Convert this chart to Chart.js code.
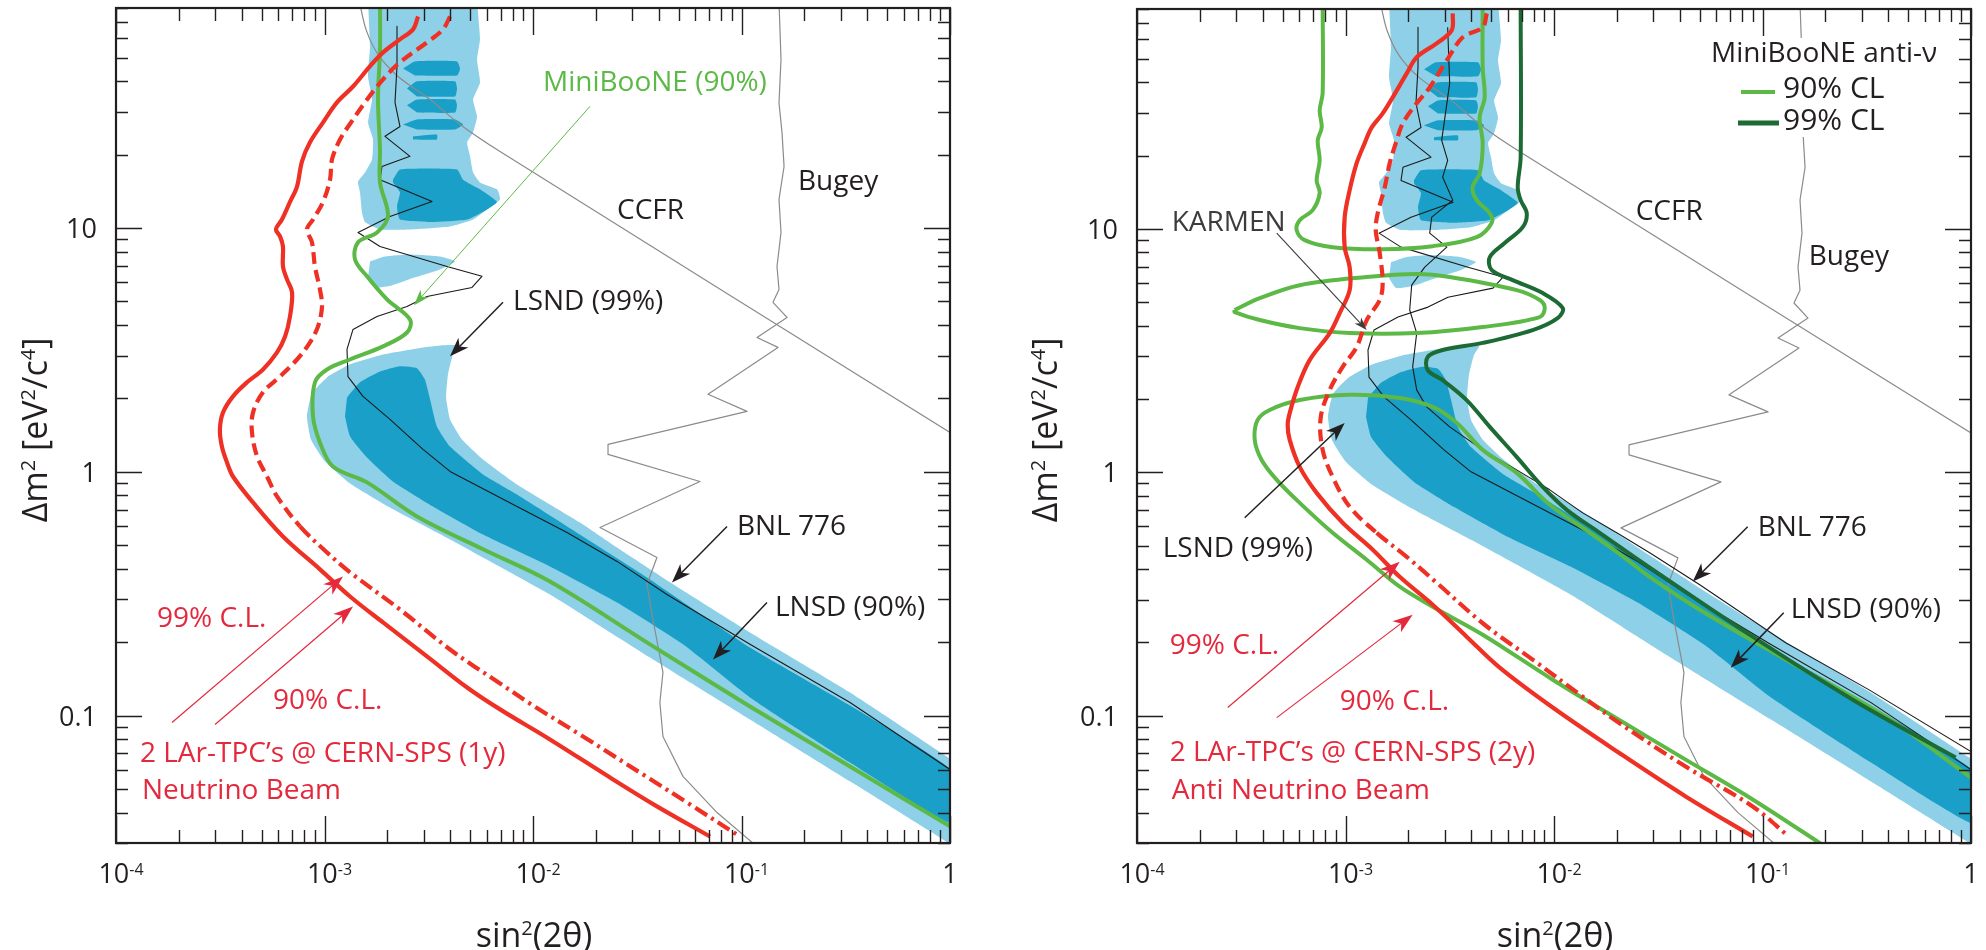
<!DOCTYPE html>
<html>
<head>
<meta charset="utf-8">
<script src="https://cdn.jsdelivr.net/npm/chart.js@4.4.1/dist/chart.umd.min.js"></script>
<style>
  html, body { margin: 0; padding: 0; background: #ffffff; }
  #wrap { position: relative; width: 1986px; height: 950px; overflow: hidden; background: #fff; }
  #wrap canvas { position: absolute; top: 0; }
</style>
</head>
<body>
<div id="wrap">
  <canvas id="left" width="993" height="950" style="left:0px"></canvas>
  <canvas id="right" width="993" height="950" style="left:993px"></canvas>
</div>
<script>
// ---- Curves in (sin²2θ, Δm² [eV²/c⁴]) ----

// LSND allowed regions (shared by both panels)
const lsnd99Lower = [
  [1.05,0.0648],[0.3315,0.1244],[0.1098,0.2193],[4.64e-2,0.3484],[2.53e-2,0.4894],[1.737e-2,0.6084],
  [1.206e-2,0.735],[8.38e-3,0.888],[5.76e-3,1.124],[4.57e-3,1.358],[4.00e-3,1.641],[3.83e-3,2.02],
  [3.91e-3,2.51],[4.13e-3,3.03],[4.37e-3,3.30],[3.58e-3,3.30],[2.777e-3,3.21],[1.908e-3,3.03],
  [1.326e-3,2.76],[1.028e-3,2.44],[8.71e-4,2.10],[8.24e-4,1.688],[8.61e-4,1.358],[1.006e-3,1.103],
  [1.326e-3,0.896],[2.061e-3,0.714],[4.00e-3,0.528],[1.206e-2,0.314],[3.64e-2,0.173],[0.1098,0.0964],
  [0.3315,0.0537],[1.05,0.029]
];
const lsnd99Upper = [
  [1.617e-3,85],[1.653e-3,55.7],[1.617e-3,41.9],[1.690e-3,33.7],[1.617e-3,27.1],[1.709e-3,23.1],
  [1.690e-3,19.1],[1.564e-3,16.9],[1.448e-3,15.5],[1.480e-3,14.02],[1.513e-3,11.6],[1.564e-3,10.6],
  [1.846e-3,9.88],[2.57e-3,9.88],[4.00e-3,10.16],[5.16e-3,10.85],[6.02e-3,11.93],[6.95e-3,13.12],
  [6.72e-3,14.42],[5.57e-3,15.4],[5.16e-3,16.9],[4.99e-3,19.7],[4.83e-3,22.5],[5.16e-3,24.7],
  [5.39e-3,28.7],[5.16e-3,33.7],[5.57e-3,39.6],[5.39e-3,49.2],[5.57e-3,59.5],[5.39e-3,85]
];
const lsnd99Island = [
  [1.653e-3,7.30],[1.951e-3,7.65],[2.57e-3,7.80],[3.58e-3,7.65],[4.23e-3,7.30],[3.58e-3,6.77],
  [2.717e-3,6.28],[2.107e-3,5.82],[1.747e-3,5.71],[1.617e-3,6.28]
];
const lsnd90Lower = [
  [1.282e-3,2.02],[1.480e-3,2.33],[1.846e-3,2.58],[2.302e-3,2.71],[2.777e-3,2.66],[3.03e-3,2.39],
  [3.21e-3,1.98],[3.46e-3,1.536],[4.00e-3,1.27],[5.76e-3,0.976],[8.38e-3,0.808],[1.737e-2,0.543],
  [3.64e-2,0.362],[0.1098,0.1903],[0.3315,0.110],[1.05,0.0584],
  [1.05,0.0357],[0.3315,0.0642],[0.1098,0.1187],[5.24e-2,0.196],[2.53e-2,0.291],[1.206e-2,0.409],
  [5.76e-3,0.553],[3.31e-3,0.721],[2.13e-3,0.913],[1.599e-3,1.146],[1.326e-3,1.397],[1.254e-3,1.688]
];
const lsnd90Blob = [
  [2.13e-3,15.8],[2.302e-3,17.4],[4.32e-3,17.4],[4.62e-3,15.8],[5.57e-3,14.42],[6.72e-3,12.8],
  [6.02e-3,11.93],[4.83e-3,10.85],[3.31e-3,10.6],[2.302e-3,10.85],[2.227e-3,12.27],[2.302e-3,14.02],[2.13e-3,15.4]
];
const lsnd90Stripes = [
  [[2.380e-3,45.2],[2.717e-3,48.3],[4.32e-3,48.3],[4.47e-3,45.2],[4.32e-3,42.3],[2.717e-3,42.3]],
  [[2.487e-3,37.4],[2.777e-3,40.0],[4.23e-3,40.0],[4.32e-3,37.4],[4.23e-3,34.7],[2.777e-3,34.7]],
  [[2.487e-3,31.9],[2.777e-3,33.7],[4.23e-3,33.7],[4.32e-3,31.9],[4.23e-3,29.8],[2.777e-3,29.8]],
  [[2.380e-3,26.6],[2.777e-3,27.9],[4.23e-3,27.9],[4.62e-3,26.6],[4.23e-3,25.4],[2.777e-3,25.4]],
  [[2.657e-3,23.8],[3.46e-3,24.2],[3.46e-3,23.1],[2.657e-3,23.1]]
];

// Exclusion limits (shared)
const ccfr = [
  [1.47e-3,85],[1.581e-3,65.4],[1.806e-3,51.6],[2.252e-3,41.9],[3.21e-3,33.7],[4.47e-3,26.6],
  [6.95e-3,20.6],[1.0,1.45]
];
const bugey = [
  [0.1513,85],[0.1547,49.2],[0.1513,32.6],[0.1564,24.7],[0.16,17.9],[0.1513,13.12],[0.1547,9.60],
  [0.148,6.96],[0.1513,5.60],[0.1416,4.96],[0.1653,4.30],[0.1187,3.56],[0.1496,3.24],[0.0691,2.08],
  [0.1063,1.77],[0.0229,1.296],[0.0229,1.179],[0.0632,0.913],[0.02096,0.591],[0.0393,0.445],
  [0.0352,0.345],[0.0376,0.248],[0.0420,0.1503],[0.0406,0.1132],[0.0420,0.0821],[0.0524,0.0563],
  [0.0763,0.04],[0.1187,0.029]
];
const bnl776 = [
  [2.227e-3,67.3],[2.227e-3,46.1],[2.178e-3,32.8],[2.302e-3,26.1],[1.951e-3,23.8],[2.57e-3,19.7],
  [1.887e-3,17.9],[1.846e-3,15.8],[3.28e-3,12.87],[2.061e-3,11.17],[1.448e-3,9.60],[1.846e-3,8.41],
  [3.87e-3,6.96],[5.69e-3,6.34],[5.10e-3,5.71],[3.10e-3,5.24],[2.487e-3,4.77],[1.786e-3,4.34],
  [1.370e-3,3.84],[1.282e-3,3.18],[1.296e-3,2.46],[1.530e-3,2.04],[2.061e-3,1.641],[2.968e-3,1.236],
  [4.00e-3,1.004],[8.38e-3,0.721],[1.456e-2,0.564],[2.53e-2,0.429],[4.39e-2,0.314],[0.1098,0.196],
  [0.3315,0.1132],[1.0,0.0601]
];
const karmen = [
  [3.09e-3,67.3],[3.16e-3,39.6],[2.893e-3,23.1],[3.09e-3,19.1],[2.925e-3,16.3],[3.27e-3,13.12],
  [2.591e-3,11.17],[2.534e-3,9.60],[3.06e-3,8.41],[2.399e-3,6.96],[2.077e-3,5.87],[2.032e-3,4.64],
  [2.195e-3,3.73],[2.10e-3,2.71],[2.195e-3,2.18],[2.452e-3,1.855],[3.16e-3,1.536],[4.55e-3,1.236],
  [6.62e-3,1.023],[9.54e-3,0.847],[1.373e-2,0.681],[2.00e-2,0.564],[2.877e-2,0.467],[5.00e-2,0.345],
  [0.1292,0.1995],[0.3232,0.128],[1.0,0.0712]
];

// Neutrino beam, 1 year: LAr-TPC sensitivity and MiniBooNE limit
const larNu99 = [
  [2.81e-3,73.9],[2.66e-3,65.4],[2.30e-3,59.5],[1.91e-3,52.6],[1.65e-3,46.1],[1.37e-3,38.1],
  [1.148e-3,32.8],[9.83e-4,27.1],[8.52e-4,22.5],[7.80e-4,18.8],[7.38e-4,14.8],[6.83e-4,12.8],
  [6.25e-4,10.85],[5.85e-4,9.88],[6.12e-4,9.25],[6.32e-4,8.41],[6.32e-4,6.96],[6.61e-4,6.16],
  [6.99e-4,5.45],[6.83e-4,4.34],[6.47e-4,3.59],[5.92e-4,3.09],[5.07e-4,2.63],[4.25e-4,2.33],
  [3.64e-4,2.04],[3.26e-4,1.75],[3.15e-4,1.49],[3.22e-4,1.27],[3.41e-4,1.09],[3.64e-4,0.957],
  [4.54e-4,0.749],[6.32e-4,0.543],[9.51e-4,0.398],[1.326e-3,0.308],[1.908e-3,0.241],[3.10e-3,0.175],
  [4.83e-3,0.1304],[6.95e-3,0.106],[1.206e-2,0.0798],[2.42e-2,0.0547],[3.93e-2,0.0424],[7.06e-2,0.0319]
];
const larNu90 = [
  [4.00e-3,73.9],[3.70e-3,65.4],[3.10e-3,57.8],[2.30e-3,47.9],[1.91e-3,40.8],[1.60e-3,33.7],
  [1.37e-3,27.9],[1.187e-3,23.1],[1.086e-3,19.1],[1.063e-3,15.8],[9.83e-4,12.8],[8.81e-4,10.85],
  [8.24e-4,9.88],[8.71e-4,8.74],[9.00e-4,6.96],[9.51e-4,5.60],[9.73e-4,4.77],[9.31e-4,3.95],
  [8.52e-4,3.40],[7.38e-4,2.89],[6.12e-4,2.46],[5.07e-4,2.12],[4.54e-4,1.75],[4.49e-4,1.45],
  [4.75e-4,1.157],[5.30e-4,0.957],[5.92e-4,0.793],[7.63e-4,0.597],[1.028e-3,0.467],[1.326e-3,0.387],
  [2.30e-3,0.2725],[4.00e-3,0.1867],[6.95e-3,0.1354],[1.0e-2,0.110],[1.737e-2,0.0821],[3.48e-2,0.0563],
  [5.66e-2,0.0432],[9.83e-2,0.0319]
];
const miniNu90 = [
  [1.846e-3,85],[1.846e-3,54.1],[1.806e-3,33.7],[1.846e-3,21.0],[1.846e-3,15.4],[2.016e-3,11.17],
  [1.786e-3,9.60],[1.448e-3,8.74],[1.401e-3,7.44],[1.599e-3,6.34],[1.994e-3,5.10],[2.57e-3,4.22],
  [2.487e-3,3.73],[1.908e-3,3.27],[1.326e-3,2.89],[1.028e-3,2.63],[9.00e-4,2.33],[8.81e-4,1.688],
  [9.51e-4,1.32],[1.098e-3,1.052],[1.599e-3,0.905],[2.777e-3,0.656],[5.76e-3,0.481],[1.206e-2,0.355],
  [3.64e-2,0.196],[0.1098,0.109],[0.3315,0.0618],[1.0,0.0351]
];

// Anti-neutrino beam, 2 years: LAr-TPC sensitivity and MiniBooNE anti-ν contours
const larAnti99 = [
  [3.27e-3,76.8],[3.23e-3,65.4],[2.737e-3,57.8],[2.195e-3,50.7],[1.966e-3,43.5],[1.684e-3,34.7],
  [1.508e-3,29.8],[1.336e-3,26.1],[1.236e-3,22.5],[1.131e-3,18.6],[1.047e-3,14.42],[9.91e-4,11.17],
  [9.91e-4,8.41],[1.047e-3,6.96],[1.047e-3,5.60],[9.38e-4,4.51],[8.40e-4,3.73],[6.73e-4,2.89],
  [5.90e-4,2.24],[5.40e-4,1.75],[5.28e-4,1.565],[5.40e-4,1.358],[6.03e-4,1.052],[7.27e-4,0.823],
  [9.69e-4,0.62],[1.351e-3,0.481],[1.820e-3,0.372],[2.619e-3,0.2857],[3.81e-3,0.2112],[5.49e-3,0.1575],
  [9.86e-3,0.108],[2.04e-2,0.0706],[4.28e-2,0.0466],[8.97e-2,0.0319]
];
const larAnti90 = [
  [4.76e-3,76.8],[4.55e-3,67.3],[3.65e-3,61.2],[3.06e-3,49.2],[2.534e-3,38.1],[2.195e-3,32.8],
  [1.881e-3,27.1],[1.760e-3,23.1],[1.629e-3,18.6],[1.542e-3,14.8],[1.427e-3,11.6],[1.396e-3,9.88],
  [1.459e-3,7.95],[1.508e-3,5.99],[1.459e-3,5.10],[1.264e-3,4.22],[1.131e-3,3.27],[9.69e-4,2.71],
  [8.40e-4,2.18],[7.60e-4,1.672],[7.77e-4,1.236],[8.68e-4,0.957],[1.047e-3,0.721],[1.411e-3,0.564],
  [1.966e-3,0.4497],[2.737e-3,0.3517],[4.65e-3,0.2364],[7.90e-3,0.17],[1.373e-2,0.1198],
  [2.04e-2,0.0937],[4.28e-2,0.0618],[8.97e-2,0.0424],[0.1336,0.0319]
];
const miniAnti90Top = [
  [7.77e-4,85],[7.77e-4,36.1],[7.52e-4,30.7],[7.69e-4,26.1],[7.36e-4,23.1],[7.52e-4,19.1],
  [7.27e-4,15.8],[7.52e-4,14.02],[6.96e-4,11.93],[6.03e-4,10.85],[5.83e-4,9.88],[6.37e-4,8.99],
  [8.68e-4,8.41],[1.508e-3,8.25],[2.619e-3,8.49],[4.26e-3,9.25],[5.03e-3,10.6],[4.92e-3,11.6],
  [4.26e-3,13.12],[4.07e-3,14.8],[4.40e-3,16.9],[4.55e-3,22.5],[4.40e-3,28.7],[4.65e-3,34.7],
  [4.55e-3,46.1],[4.55e-3,85]
];
const miniAnti90Lens = [
  [2.94e-4,4.64],[3.88e-4,5.19],[6.03e-4,5.87],[1.264e-3,6.34],[2.195e-3,6.52],[3.16e-3,6.34],
  [6.62e-3,5.60],[8.54e-3,5.10],[9.03e-3,4.73],[8.54e-3,4.34],[4.55e-3,3.95],[2.195e-3,3.73],
  [1.047e-3,3.73],[6.03e-4,3.91],[3.88e-4,4.22],[2.94e-4,4.55],[2.94e-4,4.64]
];
const miniAnti90Low = [
  [0.21,0.0282],[8.97e-2,0.0453],[4.28e-2,0.066],[2.04e-2,0.0964],[9.86e-3,0.1406],[4.55e-3,0.2152],
  [2.619e-3,0.2804],[1.820e-3,0.3387],[1.264e-3,0.437],[8.68e-4,0.564],[6.03e-4,0.749],[4.68e-4,0.931],
  [3.96e-4,1.124],[3.67e-4,1.358],[3.79e-4,1.641],[4.33e-4,1.803],[6.03e-4,1.98],[1.047e-3,2.08],
  [1.820e-3,2.02],[2.619e-3,1.855],[3.42e-3,1.595],[4.55e-3,1.236],[6.62e-3,0.994],[9.54e-3,0.735],
  [1.373e-2,0.591],[2.00e-2,0.4715],[2.877e-2,0.372],[5.00e-2,0.2725],[0.1292,0.17],[0.39,0.0991],
  [1.0,0.0557]
];
const miniAnti99 = [
  [6.92e-3,85],[6.92e-3,19.7],[6.70e-3,14.8],[6.92e-3,13.12],[7.40e-3,11.6],[7.08e-3,10.16],
  [5.80e-3,8.74],[4.92e-3,7.65],[5.03e-3,6.77],[6.34e-3,6.16],[8.83e-3,5.45],[1.101e-2,4.73],
  [1.041e-2,4.30],[7.90e-3,3.84],[4.55e-3,3.40],[2.925e-3,3.18],[2.479e-3,2.976],[2.479e-3,2.63],
  [2.925e-3,2.39],[3.81e-3,1.98],[4.92e-3,1.536],[6.62e-3,1.157],[8.83e-3,0.871],[1.151e-2,0.701],
  [1.657e-2,0.564],[2.975e-2,0.398],[8.97e-2,0.2112],[0.2707,0.1164],[0.8445,0.0673]
];

// Axis ranges and tick labels
const xRange = [1e-4, 1];
const yRange = [0.03, 80];
const xTickLabels = [[1e-4,'10','-4'],[1e-3,'10','-3'],[1e-2,'10','-2'],[1e-1,'10','-1'],[1,'1','']];
const yTickLabels = [[0.1,'0.1'],[1,'1'],[10,'10']];

// ---- Styling ----
const FONT = '"Open Sans", "DejaVu Sans", sans-serif';
const INK = '#231f20';
const RED = '#ee3124';
const RED_TXT = '#e4293d';
const GREEN = '#5cb946';
const DARKGREEN = '#1d6b34';
const LIGHT = '#8ed0e7';
const DARK = '#1aa0c8';
const GRAY = '#8b8b8b';
const KARMEN_INK = '#3c3c3c';

// Labels and pointer arrows, anchored in data units
const leftNotes = [
  {text:'MiniBooNE (90%)', x:1.117e-2, y:40.0, color:GREEN},
  {text:'LSND (99%)', x:8.02e-3, y:5.05, color:INK},
  {text:'CCFR', x:2.53e-2, y:11.93, color:INK},
  {text:'Bugey', x:0.1866, y:15.8, color:INK},
  {text:'BNL 776', x:9.51e-2, y:0.6025, color:INK},
  {text:'LNSD (90%)', x:0.1447, y:0.2804, color:INK},
  {text:'99% C.L.', x:1.573e-4, y:0.2527, color:RED_TXT},
  {text:'90% C.L.', x:5.66e-4, y:0.1164, color:RED_TXT},
  {text:'2 LAr-TPC\u2019s @ CERN-SPS (1y)', x:1.303e-4, y:0.0712, color:RED_TXT},
  {text:'Neutrino Beam', x:1.332e-4, y:0.0502, color:RED_TXT}
];
const leftArrows = [
  {from:[1.877e-2,31.6], to:[2.687e-3,4.82], color:GREEN, width:1, head:[16,11]},
  {from:[7.18e-3,4.96], to:[4.00e-3,2.98], color:INK, width:1.5, head:[19,14]},
  {from:[8.52e-2,0.597], to:[4.64e-2,0.3517], color:INK, width:1.5, head:[19,14]},
  {from:[0.1325,0.291], to:[7.30e-2,0.17], color:INK, width:1.5, head:[19,14]},
  {from:[1.856e-4,0.0937], to:[1.227e-3,0.372], color:RED_TXT, width:1.2, head:[20,14]},
  {from:[2.985e-4,0.0919], to:[1.370e-3,0.2804], color:RED_TXT, width:1.2, head:[20,14]}
];
const rightNotes = [
  {text:'KARMEN', x:1.467e-4, y:10.75, color:KARMEN_INK},
  {text:'CCFR', x:2.466e-2, y:11.93, color:INK},
  {text:'Bugey', x:0.1666, y:7.80, color:INK},
  {text:'LSND (99%)', x:1.328e-4, y:0.494, color:INK},
  {text:'BNL 776', x:9.48e-2, y:0.6025, color:INK},
  {text:'LNSD (90%)', x:0.1366, y:0.2777, color:INK},
  {text:'99% C.L.', x:1.435e-4, y:0.1976, color:RED_TXT},
  {text:'90% C.L.', x:9.38e-4, y:0.1164, color:RED_TXT},
  {text:'2 LAr-TPC\u2019s @ CERN-SPS (2y)', x:1.435e-4, y:0.0719, color:RED_TXT},
  {text:'Anti Neutrino Beam', x:1.467e-4, y:0.0502, color:RED_TXT}
];
const rightArrows = [
  {from:[4.68e-4,9.60], to:[1.264e-3,3.84], color:KARMEN_INK, width:1.1, head:[13,9]},
  {from:[3.285e-4,0.65], to:[9.91e-4,1.595], color:INK, width:1.5, head:[19,14]},
  {from:[8.49e-2,0.597], to:[4.63e-2,0.3555], color:INK, width:1.5, head:[19,14]},
  {from:[0.1264,0.2649], to:[7.04e-2,0.1575], color:INK, width:1.5, head:[19,14]},
  {from:[2.723e-4,0.108], to:[1.820e-3,0.429], color:RED_TXT, width:1.2, head:[20,14]},
  {from:[4.68e-4,0.0982], to:[2.10e-3,0.26], color:RED_TXT, width:1.2, head:[20,14]}
];

// ---- Dataset helpers ----
const toPts = arr => arr.map(([x, y]) => ({x, y}));
function curve(arr, color, width, order, tension, extra) {
  return Object.assign({
    data: toPts(arr), showLine: true, fill: false, borderColor: color, borderWidth: width,
    pointRadius: 0, pointHoverRadius: 0, tension: tension, order: order,
    borderJoinStyle: 'round', borderCapStyle: 'butt'
  }, extra || {});
}
function region(arr, color, order) {
  return {
    data: toPts(arr), showLine: true, fill: 'shape', backgroundColor: color,
    borderColor: 'rgba(0,0,0,0)', borderWidth: 0, pointRadius: 0, pointHoverRadius: 0,
    tension: 0.15, order: order
  };
}
const dashRed = {
  segment: { borderDash: c => (c.p0.parsed.y < 0.6 ? [14, 5, 3, 5] : [12, 6]) }
};

function lsndDatasets() {
  const sets = [
    region(lsnd99Lower, LIGHT, 30),
    region(lsnd99Upper, LIGHT, 30),
    region(lsnd99Island, LIGHT, 30),
    region(lsnd90Lower, DARK, 29),
    region(lsnd90Blob, DARK, 29)
  ];
  lsnd90Stripes.forEach(s => sets.push(region(s, DARK, 29)));
  return sets;
}

function leftDatasets() {
  return lsndDatasets().concat([
    curve(ccfr, GRAY, 1.2, 20, 0.3),
    curve(bugey, GRAY, 1.2, 20, 0),
    curve(bnl776, '#1a1a1a', 1.1, 19, 0),
    curve(miniNu90, GREEN, 4, 10, 0.35),
    curve(larNu90, RED, 4.2, 3, 0.35, dashRed),
    curve(larNu99, RED, 4.2, 2, 0.35)
  ]);
}
function rightDatasets() {
  return lsndDatasets().concat([
    curve(ccfr, GRAY, 1.2, 20, 0.3),
    curve(bugey, GRAY, 1.2, 20, 0),
    curve(bnl776, '#1a1a1a', 1.1, 19, 0),
    curve(karmen, '#1a1a1a', 1.1, 19, 0),
    curve(miniAnti90Top, GREEN, 4, 10, 0.35),
    curve(miniAnti90Lens, GREEN, 4, 10, 0.35),
    curve(miniAnti90Low, GREEN, 4, 10, 0.35),
    curve(miniAnti99, DARKGREEN, 4, 9, 0.35),
    curve(larAnti90, RED, 4.2, 3, 0.35, dashRed),
    curve(larAnti99, RED, 4.2, 2, 0.35)
  ]);
}

// ---- Text helpers ----
function richWidth(ctx, parts, size) {
  let w = 0;
  parts.forEach(([t, sup]) => {
    ctx.font = (sup ? Math.round(size * 0.6) : size) + 'px ' + FONT;
    w += ctx.measureText(t).width;
  });
  return w;
}
function drawRich(ctx, parts, x, y, size, align, raise) {
  const w = richWidth(ctx, parts, size);
  let cx = align === 'center' ? x - w / 2 : (align === 'right' ? x - w : x);
  ctx.textAlign = 'left';
  ctx.textBaseline = 'alphabetic';
  parts.forEach(([t, sup]) => {
    ctx.font = (sup ? Math.round(size * 0.6) : size) + 'px ' + FONT;
    ctx.fillText(t, cx, sup ? y - size * raise : y);
    cx += ctx.measureText(t).width;
  });
}
function drawArrow(ctx, x0, y0, x1, y1, color, width, head) {
  const [L, W] = head;
  const ang = Math.atan2(y1 - y0, x1 - x0);
  const c = Math.cos(ang), s = Math.sin(ang);
  const back = (d, w) => [x1 - c * d - s * w, y1 - s * d + c * w];
  ctx.strokeStyle = color;
  ctx.lineWidth = width;
  ctx.beginPath();
  ctx.moveTo(x0, y0);
  const b = back(L * 0.7, 0);
  ctx.lineTo(b[0], b[1]);
  ctx.stroke();
  ctx.fillStyle = color;
  ctx.beginPath();
  ctx.moveTo(x1, y1);
  let p = back(L, W / 2); ctx.lineTo(p[0], p[1]);
  p = back(L * 0.72, 0); ctx.lineTo(p[0], p[1]);
  p = back(L, -W / 2); ctx.lineTo(p[0], p[1]);
  ctx.closePath();
  ctx.fill();
}

// ---- Frame, ticks, labels, annotations ----
function decorPlugin(panel) {
  return {
    id: 'decor_' + panel.id,
    afterDatasetsDraw(chart) {
      const ctx = chart.ctx;
      const a = chart.chartArea;
      const sx = chart.scales.x, sy = chart.scales.y;
      const px = v => sx.getPixelForValue(v);
      const py = v => sy.getPixelForValue(v);
      ctx.save();

      // legend box (anti-neutrino panel)
      if (panel.legend) {
        ctx.fillStyle = '#ffffff';
        ctx.fillRect(a.left + 563, a.top + 29, 247, 99);
        ctx.fillStyle = INK;
        ctx.font = '28px ' + FONT;
        ctx.textAlign = 'left';
        ctx.textBaseline = 'alphabetic';
        ctx.fillText('MiniBooNE anti-\u03BD', a.left + 574, a.top + 53);
        ctx.font = '30px ' + FONT;
        ctx.fillText('90% CL', a.left + 646, a.top + 89);
        ctx.fillText('99% CL', a.left + 646, a.top + 121);
        ctx.lineCap = 'butt';
        ctx.strokeStyle = GREEN; ctx.lineWidth = 4;
        ctx.beginPath(); ctx.moveTo(a.left + 604, a.top + 83); ctx.lineTo(a.left + 638, a.top + 83); ctx.stroke();
        ctx.strokeStyle = DARKGREEN; ctx.lineWidth = 5;
        ctx.beginPath(); ctx.moveTo(a.left + 601, a.top + 114); ctx.lineTo(a.left + 642, a.top + 114); ctx.stroke();
      }

      // pointer arrows
      panel.arrows.forEach(ar => {
        drawArrow(ctx, px(ar.from[0]), py(ar.from[1]), px(ar.to[0]), py(ar.to[1]), ar.color, ar.width, ar.head);
      });

      // annotation text
      ctx.textAlign = 'left';
      ctx.textBaseline = 'alphabetic';
      panel.notes.forEach(n => {
        ctx.fillStyle = n.color;
        ctx.font = '28px ' + FONT;
        ctx.fillText(n.text, px(n.x), py(n.y) + 10);
      });

      // inward ticks on all four sides
      ctx.strokeStyle = INK;
      ctx.lineWidth = 1.4;
      ctx.lineCap = 'butt';
      ctx.beginPath();
      for (let e = -4; e <= 0; e++) {
        for (let m = 1; m <= 9; m++) {
          const v = m * Math.pow(10, e);
          if (v < xRange[0] * 0.999 || v > xRange[1] * 1.001) continue;
          const X = Math.round(px(v)) + 0.5;
          const len = m === 1 ? 27 : 13;
          ctx.moveTo(X, a.bottom); ctx.lineTo(X, a.bottom - len);
          ctx.moveTo(X, a.top); ctx.lineTo(X, a.top + len);
        }
      }
      for (let e = -2; e <= 1; e++) {
        for (let m = 1; m <= 9; m++) {
          const v = m * Math.pow(10, e);
          if (v < yRange[0] * 0.999 || v > yRange[1] * 1.001) continue;
          const Y = Math.round(py(v)) + 0.5;
          const len = m === 1 ? 26 : 12;
          ctx.moveTo(a.left, Y); ctx.lineTo(a.left + len, Y);
          ctx.moveTo(a.right, Y); ctx.lineTo(a.right - len, Y);
        }
      }
      ctx.stroke();

      // frame
      ctx.lineWidth = 2.2;
      ctx.strokeRect(a.left, a.top, a.right - a.left, a.bottom - a.top);

      // tick labels
      ctx.fillStyle = INK;
      yTickLabels.forEach(([v, t]) => {
        ctx.font = '27px ' + FONT;
        ctx.textAlign = 'right';
        ctx.textBaseline = 'alphabetic';
        ctx.fillText(t, a.left - 19, py(v) + 10);
      });
      xTickLabels.forEach(([v, base, exp]) => {
        const parts = exp ? [[base, false], [exp, true]] : [[base, false]];
        const shift = exp ? 5 : 0;
        drawRich(ctx, parts, px(v) + shift, a.bottom + 40, 27, 'center', 0.3);
      });

      // axis titles
      drawRich(ctx, [['sin', false], ['2', true], ['(2\u03B8)', false]],
        (a.left + a.right) / 2 + 1, a.bottom + 104, 34, 'center', 0.36);
      ctx.save();
      ctx.translate(panel.titleX, 430);
      ctx.rotate(-Math.PI / 2);
      drawRich(ctx, [['\u0394m', false], ['2', true], [' [eV', false], ['2', true], ['/c', false], ['4', true], [']', false]],
        0, 0, 34, 'center', 0.36);
      ctx.restore();

      ctx.restore();
    }
  };
}

const panels = [
  {id: 'left', pad: {left: 116, right: 43, top: 8, bottom: 107}, titleX: 47,
   notes: leftNotes, arrows: leftArrows, legend: false, datasets: leftDatasets()},
  {id: 'right', pad: {left: 144, right: 15, top: 9, bottom: 107}, titleX: 64,
   notes: rightNotes, arrows: rightArrows, legend: true, datasets: rightDatasets()}
];

Chart.defaults.font.family = FONT;

panels.forEach(panel => {
  new Chart(document.getElementById(panel.id), {
    type: 'scatter',
    data: { datasets: panel.datasets },
    options: {
      responsive: false,
      devicePixelRatio: 1,
      animation: false,
      events: [],
      layout: { padding: panel.pad },
      scales: {
        x: { type: 'logarithmic', min: xRange[0], max: xRange[1], display: false },
        y: { type: 'logarithmic', min: yRange[0], max: yRange[1], display: false }
      },
      plugins: { legend: { display: false }, tooltip: { enabled: false } }
    },
    plugins: [decorPlugin(panel)]
  });
});
</script>
</body>
</html>
